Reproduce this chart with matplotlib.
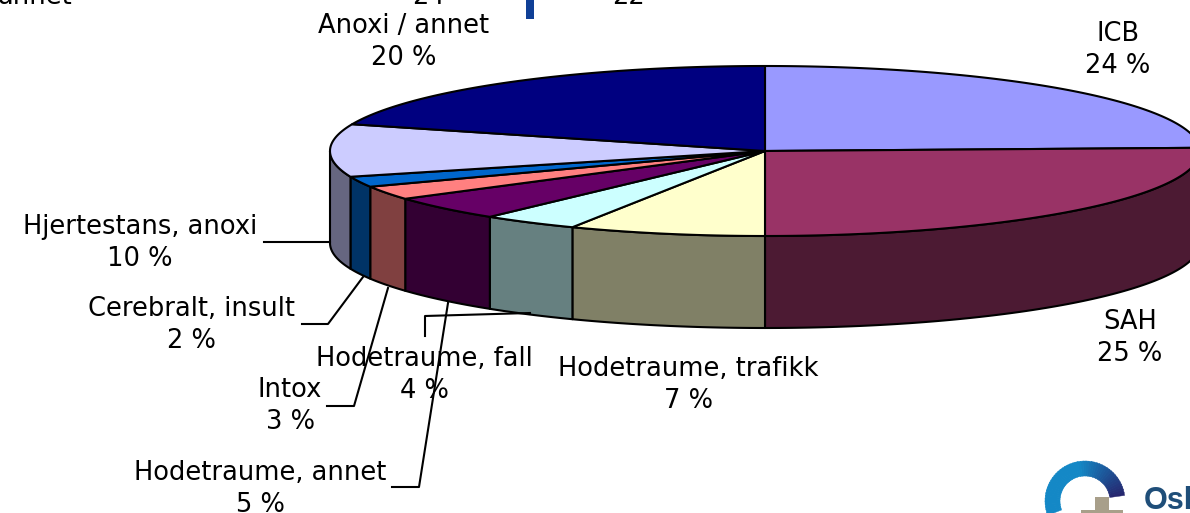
#!/usr/bin/env python3
import matplotlib
matplotlib.use('Agg')
import matplotlib.pyplot as plt
from matplotlib.patches import Polygon, Rectangle, Wedge
from matplotlib.colors import to_rgb
import numpy as np

plt.rcParams['font.family'] = ['DejaVu Sans']

# Slices, clockwise from 12 o'clock
names = ['ICB', 'SAH', 'Hodetraume, trafikk', 'Hodetraume, fall', 'Hodetraume, annet',
         'Intox', 'Cerebralt, insult', 'Hjertestans, anoxi', 'Anoxi / annet']
shares = [24.4, 25.6, 7.3, 3.6, 4.6, 2.6, 2.0, 10.0, 19.9]
pct_labels = ['24 %', '25 %', '7 %', '4 %', '5 %', '3 %', '2 %', '10 %', '20 %']
top_colors = ['#9999FF', '#993366', '#FFFFCC', '#CCFFFF', '#660066',
              '#FF8080', '#0066CC', '#CCCCFF', '#000080']
side_colors = ['#4C4C80', '#4C1A33', '#808066', '#668080', '#330033',
               '#804040', '#003366', '#666680', '#000040']
label_pos = [(1118, 50), (1130, 338), (688, 385), (424, 375), (260, 489),
             (290, 406), (191, 325), (140, 243), (404, 42)]

# Pie geometry in pixels
cx, cy, rx, ry, depth = 765, 151, 435, 85, 92
edge_lw = 1.5
font_size = 18.5

fig = plt.figure(figsize=(11.9, 5.13), dpi=100)
ax = fig.add_axes([0, 0, 1, 1])
ax.set_xlim(0, 1190)
ax.set_ylim(513, 0)
ax.axis('off')


def arc(a0, a1, dy=0):
    n = max(2, int(abs(a1 - a0) * 1.5))
    t = np.radians(np.linspace(a0, a1, n))
    return np.column_stack([cx + rx * np.sin(t), cy - ry * np.cos(t) + dy])


edges = np.cumsum([0] + shares) / sum(shares) * 360

# front walls
for i in range(len(shares)):
    a0, a1 = max(edges[i], 90), min(edges[i + 1], 270)
    if a1 <= a0:
        continue
    pts = np.vstack([arc(a0, a1), arc(a0, a1, depth)[::-1]])
    ax.add_patch(Polygon(pts, closed=True, facecolor=side_colors[i], edgecolor='black',
                         linewidth=edge_lw, joinstyle='round', zorder=2))

# top face
for i in range(len(shares)):
    pts = np.vstack([[cx, cy], arc(edges[i], edges[i + 1])])
    ax.add_patch(Polygon(pts, closed=True, facecolor=top_colors[i], edgecolor='black',
                         linewidth=edge_lw, joinstyle='round', zorder=3))

# labels
for name, pct, (x, y) in zip(names, pct_labels, label_pos):
    ax.text(x, y, name + '\n' + pct, ha='center', va='center', fontsize=font_size,
            linespacing=1.32, color='black', zorder=6)

# leader lines
leaders = [
    [(264, 242), (330, 242)],
    [(302, 324), (328, 324), (363, 277)],
    [(327, 406), (354, 406), (388, 288)],
    [(392, 487), (419, 487), (448, 303)],
    [(425, 336), (425, 316), (530, 313)],
]
for line in leaders:
    xs, ys = zip(*line)
    ax.plot(xs, ys, color='black', linewidth=1.5, zorder=5)

# cropped slide content at the top edge
ax.text(72, 4, 'annet', ha='right', va='baseline', fontsize=font_size, zorder=6)
ax.text(429, 4, '24', ha='center', va='baseline', fontsize=font_size, zorder=6)
ax.text(629, 4, '22', ha='center', va='baseline', fontsize=font_size, zorder=6)
ax.add_patch(Rectangle((526, 0), 8, 19, facecolor='#0F3F96', edgecolor='none'))

# logo bottom right
lx, ly = 1085, 501
c0, c1 = np.array(to_rgb('#26266E')), np.array(to_rgb('#1488C6'))
for a in np.arange(8, 200, 4):
    f = min(1, (a - 8) / 90)
    col = c0 + (c1 - c0) * f
    ax.add_patch(Wedge((lx, ly), 40, -a - 5, -a, width=15, facecolor=col, edgecolor=col, linewidth=0.3))
ax.add_patch(Rectangle((1095, 497), 14, 16, facecolor='#A89F8A', edgecolor='none', zorder=4))
ax.add_patch(Rectangle((1081, 510), 42, 3, facecolor='#A89F8A', edgecolor='none', zorder=4))
ax.text(1144, 509, 'Osl', ha='left', va='baseline', fontsize=22, fontweight='bold',
        family='Liberation Sans', color='#1F4E79', zorder=6)

fig.savefig('out.png', dpi=100)
